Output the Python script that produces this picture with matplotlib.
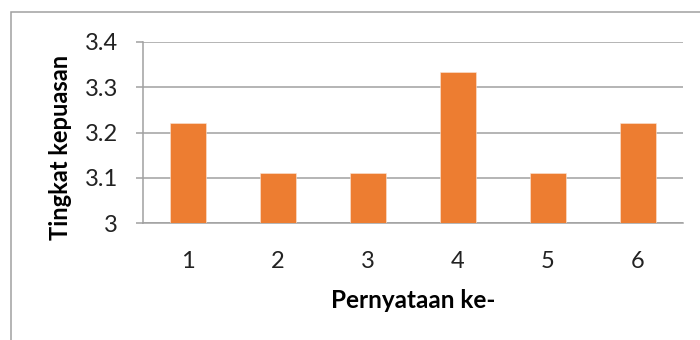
import matplotlib.pyplot as plt
from matplotlib.patches import Rectangle

# satisfaction score per statement
statements = ['1', '2', '3', '4', '5', '6']
scores = [3.222, 3.111, 3.111, 3.333, 3.111, 3.222]
yticks = [3.0, 3.1, 3.2, 3.3, 3.4]
ytick_labels = ['3', '3.1', '3.2', '3.3', '3.4']

plt.rcParams['font.family'] = ['Lato', 'DejaVu Sans']

fig = plt.figure(figsize=(7, 3.4), dpi=100)
ax = fig.add_axes([143/700, 1 - 223/340, 540/700, 181/340])

x = range(len(statements))
ax.bar(x, [s - 3 for s in scores], 0.4, bottom=3, color='#ED7D31',
       edgecolor='#fbe5d6', linewidth=0.4, zorder=3)

ax.set_xlim(-0.5, len(statements) - 0.5)
ax.set_ylim(3.0, 3.4)
ax.set_yticks(yticks)
ax.set_yticklabels(ytick_labels)
ax.set_xticks(list(x))
ax.set_xticklabels(statements)

ax.grid(axis='y', color='#a0a0a0', linewidth=1.1, zorder=0)
for side in ['top', 'right']:
    ax.spines[side].set_visible(False)
ax.spines['left'].set_color('#a0a0a0')
ax.spines['left'].set_linewidth(1.1)
ax.spines['bottom'].set_color('#a0a0a0')
ax.spines['bottom'].set_linewidth(1.1)

ax.tick_params(axis='y', length=5, width=1.1, color='#a0a0a0', pad=13,
               labelsize=17, labelcolor='#222222')
ax.tick_params(axis='x', length=0, pad=20, labelsize=17, labelcolor='#222222')

ax.set_ylabel('Tingkat kepuasan', fontsize=17, fontweight='bold')
ax.yaxis.set_label_coords(-71/540, 0.42)
ax.set_xlabel('Pernyataan ke-', fontsize=17.5, fontweight='bold')
ax.xaxis.set_label_coords(0.5, -66/181)

# chart frame
fig.patches.append(Rectangle((11/700, -0.1), 1.2, 1 - 12/340 + 0.1,
                             transform=fig.transFigure, fill=False,
                             edgecolor='#a0a0a0', linewidth=1.1))

fig.savefig('out.png', dpi=100)
